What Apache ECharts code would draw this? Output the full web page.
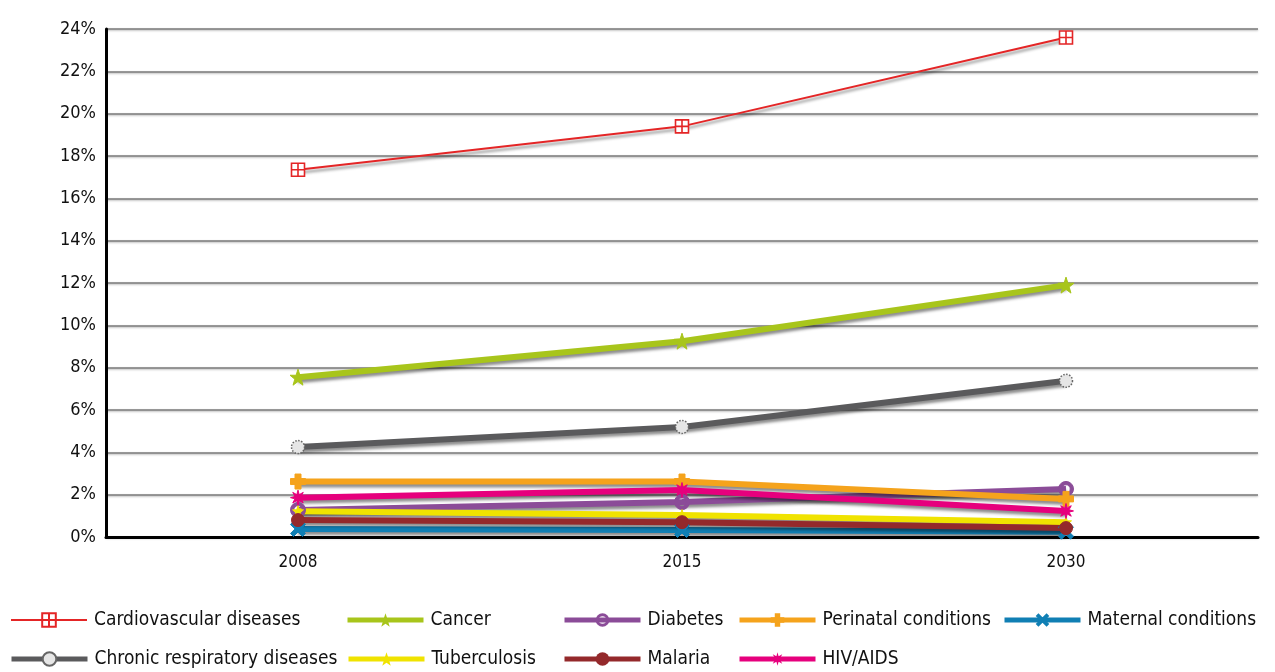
<!DOCTYPE html>
<html>
<head>
<meta charset="utf-8">
<script src="https://cdn.jsdelivr.net/npm/echarts@6/dist/echarts.min.js"></script>
<style>
  html, body { margin: 0; padding: 0; background: #fff; }
  #main { width: 1275px; height: 672px; }
</style>
</head>
<body>
<div id="main"></div>
<script>
// 数据
var years = ['2008', '2015', '2030'];
var names = ['Cardiovascular diseases', 'Cancer', 'Diabetes', 'Perinatal conditions', 'Maternal conditions',
             'Chronic respiratory diseases', 'Tuberculosis', 'Malaria', 'HIV/AIDS'];
var cardiovascular = [17.35, 19.4, 23.6];
var cancer = [7.55, 9.25, 11.9];
var diabetes = [1.28, 1.65, 2.27];
var perinatal = [2.62, 2.62, 1.8];
var maternal = [0.38, 0.33, 0.25];
var chronicResp = [4.25, 5.2, 7.38];
var tuberculosis = [1.22, 1.04, 0.7];
var malaria = [0.8, 0.7, 0.42];
var hivAids = [1.86, 2.22, 1.23];
var yTicks = [0, 24, 2];

var FONT = '"DejaVu Sans Condensed", "Liberation Sans Narrow", "Open Sans", sans-serif';

function mkSeries(name, data, color, width, symbol, size, opts) {
	var s = {
		name: name,
		type: 'line',
		data: data,
		symbol: symbol,
		symbolSize: size,
		showAllSymbol: true,
		lineStyle: {
			color: color, width: width,
			shadowColor: 'rgba(0,0,0,0.45)', shadowBlur: 3, shadowOffsetY: 3
		},
		itemStyle: { color: color, borderColor: color },
		emphasis: { disabled: true },
		z: 3
	};
	if (opts) {
		for (var k in opts) s[k] = opts[k];
	}
	return s;
}

var crossBox = 'path://M0,0H10V10H0Z M5,0V10 M0,5H10';
var star5 = 'path://M5,0L6.2,3.6L10,3.6L7,5.9L8.1,9.5L5,7.3L1.9,9.5L3,5.9L0,3.6L3.8,3.6Z';
var plus = 'path://M3,0H7V3H10V7H7V10H3V7H0V3H3Z';
var xMark = 'path://M0,2L2,0L5,3L8,0L10,2L7,5L10,8L8,10L5,7L2,10L0,8L3,5Z';
var burst = 'path://M5,0L5.8,3L8.5,1.5L7,4.2L10,5L7,5.8L8.5,8.5L5.8,7L5,10L4.2,7L1.5,8.5L3,5.8L0,5L3,4.2L1.5,1.5L4.2,3Z';
var ring = 'path://M5,0A5,5 0 1,1 4.99,0Z M5,2.2A2.8,2.8 0 1,0 5.01,2.2Z';

var chronicItem = { color: '#e6e6e6', borderColor: '#666', borderWidth: 1.5, borderType: 'dotted' };

var series = [
	mkSeries(names[0], cardiovascular, '#e42526', 2, crossBox, 13,
		{ itemStyle: { color: '#fff', borderColor: '#e42526', borderWidth: 1.6 } }),
	mkSeries(names[1], cancer, '#a8c51b', 6, star5, 16),
	mkSeries(names[2], diabetes, '#8b4c98', 6, ring, 15),
	mkSeries(names[3], perinatal, '#f5a31c', 6, plus, 15),
	mkSeries(names[4], maternal, '#107fb4', 6, xMark, 15),
	mkSeries(names[5], chronicResp, '#5a5a5c', 6, 'circle', 13, { itemStyle: chronicItem }),
	mkSeries(names[6], tuberculosis, '#f0e300', 6, star5, 11),
	mkSeries(names[7], malaria, '#94292b', 6, 'circle', 13),
	mkSeries(names[8], hivAids, '#e6007d', 6, burst, 15)
];

// 图例：每项单独定位
function mkLegend(idx, left, top) {
	return {
		left: left, top: top,
		padding: 0,
		itemWidth: 76, itemHeight: 17,
		data: [{ name: names[idx], lineStyle: { width: idx === 0 ? 2 : 5 } }],
		textStyle: { fontFamily: FONT, fontSize: 19, color: '#111', lineHeight: 20, padding: [0, 0, 0, 2] },
		selectedMode: false
	};
}

var chart = echarts.init(document.getElementById('main'));
chart.setOption({
	animation: false,
	backgroundColor: '#fff',
	grid: { left: 106, right: 17, top: 29, bottom: 135 },
	legend: [
		mkLegend(0, 10, 610),
		mkLegend(1, 345, 610),
		mkLegend(2, 562, 610),
		mkLegend(3, 737, 610),
		mkLegend(4, 1002, 610),
		mkLegend(5, 9, 649),
		mkLegend(6, 346, 649),
		mkLegend(7, 562, 649),
		mkLegend(8, 737, 649)
	],
	xAxis: {
		type: 'category',
		data: years,
		boundaryGap: true,
		axisLine: { lineStyle: { color: '#000', width: 3 } },
		axisTick: { show: false },
		axisLabel: { fontFamily: FONT, fontSize: 17, color: '#111', margin: 17 }
	},
	yAxis: {
		type: 'value',
		min: yTicks[0], max: yTicks[1], interval: yTicks[2],
		axisLine: { show: true, lineStyle: { color: '#000', width: 3 } },
		axisTick: { show: false },
		axisLabel: { formatter: '{value}%', fontFamily: FONT, fontSize: 18, color: '#111', margin: 10 },
		splitLine: { lineStyle: { color: '#7a7a7a', width: 1.5, shadowColor: 'rgba(0,0,0,0.3)', shadowBlur: 2, shadowOffsetY: 1 } }
	},
	series: series
});
</script>
</body>
</html>
